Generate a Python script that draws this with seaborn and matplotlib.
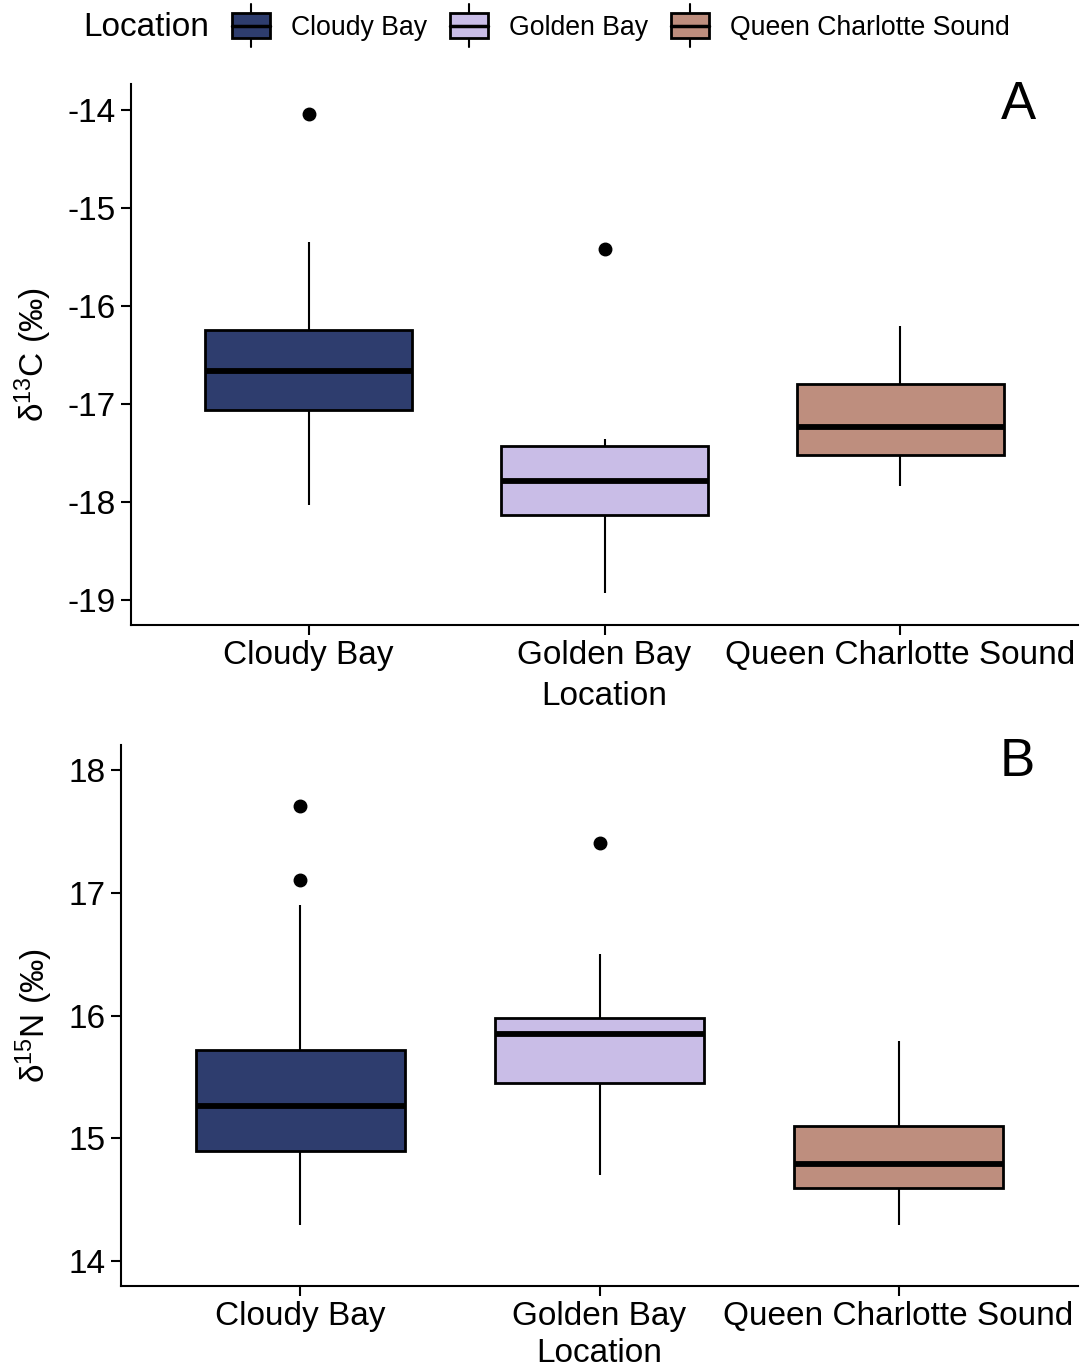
import matplotlib
matplotlib.use("Agg")
import matplotlib.pyplot as plt
from matplotlib.legend_handler import HandlerBase
from matplotlib.patches import Rectangle, Patch
from matplotlib.lines import Line2D
import pandas as pd
import seaborn as sns


LOCATIONS = ["Cloudy Bay", "Golden Bay", "Queen Charlotte Sound"]
COLORS = ["#2E3D6E", "#C9BDE7", "#BE8E7E"]

# sample values per site (chosen to reproduce the drawn box stats)
d13c_cloudy = [-18.03, -17.50, -17.06, -16.85, -16.66, -16.45, -16.25, -15.35, -14.05]
d13c_golden = [-18.92, -18.40, -18.13, -17.95, -17.78, -17.60, -17.43, -17.36, -15.42]
d13c_queen = [-17.83, -17.70, -17.52, -17.40, -17.23, -17.00, -16.80, -16.50, -16.20]

d15n_cloudy = [14.30, 14.60, 14.80, 14.90, 15.00, 15.15, 15.26, 15.40, 15.60,
               15.72, 16.90, 17.10, 17.70]
d15n_golden = [14.70, 15.20, 15.45, 15.70, 15.85, 15.92, 15.98, 16.50, 17.40]
d15n_queen = [14.30, 14.50, 14.60, 14.70, 14.79, 14.95, 15.10, 15.40, 15.79]

C13_TICKS = [-19, -18, -17, -16, -15, -14]
N15_TICKS = [14, 15, 16, 17, 18]


def long_df(groups):
    rows = []
    for loc, vals in zip(LOCATIONS, groups):
        for v in vals:
            rows.append({"Location": loc, "value": v})
    return pd.DataFrame(rows)


df_c = long_df([d13c_cloudy, d13c_golden, d13c_queen])
df_n = long_df([d15n_cloudy, d15n_golden, d15n_queen])

sns.set_style("ticks")
plt.rcParams["font.family"] = ["Liberation Sans", "DejaVu Sans"]
plt.rcParams["mathtext.fontset"] = "custom"
plt.rcParams["mathtext.rm"] = "Liberation Sans"
plt.rcParams["mathtext.default"] = "regular"
plt.rcParams["text.color"] = "black"
plt.rcParams["axes.labelcolor"] = "black"

BASE = 24
LW = 1.5

fig = plt.figure(figsize=(10.84, 13.68), dpi=100)
ax_a = fig.add_axes([131 / 1084, 1 - 625 / 1368, (1078 - 131) / 1084, (625 - 84) / 1368])
ax_b = fig.add_axes([121 / 1084, 1 - 1286 / 1368, (1078 - 121) / 1084, (1286 - 745) / 1368])


def draw_panel(ax, df, ylim, ticks, ylabel, tag, tag_y, xpad):
    sns.boxplot(
        data=df, x="Location", y="value", hue="Location",
        order=LOCATIONS, hue_order=LOCATIONS, palette=COLORS, saturation=1,
        width=0.7, linecolor="black", linewidth=2.0, legend=False,
        showcaps=False, ax=ax,
        medianprops={"linewidth": 4.2, "color": "black"},
        whiskerprops={"linewidth": LW, "color": "black"},
        flierprops={"marker": "o", "markerfacecolor": "black",
                    "markeredgecolor": "black", "markersize": 9},
    )
    ax.set_xlim(-0.6, 2.6)
    ax.set_ylim(ylim)
    ax.set_yticks(ticks)
    ax.set_yticklabels([str(t) for t in ticks])
    ax.set_xlabel("Location", fontsize=BASE, labelpad=xpad)
    ax.set_ylabel(ylabel, fontsize=BASE, labelpad=10)
    ax.tick_params(axis="both", labelsize=BASE, width=LW, length=7,
                   color="black", labelcolor="black", pad=4)
    for side in ["top", "right"]:
        ax.spines[side].set_visible(False)
    for side in ["left", "bottom"]:
        ax.spines[side].set_linewidth(LW)
        ax.spines[side].set_color("black")
    ax.text(0.937, tag_y, tag, transform=ax.transAxes, fontsize=38,
            ha="center", va="center")


draw_panel(ax_a, df_c, (-19.25, -13.74), C13_TICKS, "δ$^{13}$C (‰)", "A", 0.962, 7)
draw_panel(ax_b, df_n, (13.80, 18.20), N15_TICKS, "δ$^{15}$N (‰)", "B", 0.968, 4)


class BoxKey(HandlerBase):
    def create_artists(self, legend, orig_handle, xdescent, ydescent,
                       width, height, fontsize, trans):
        x0, y0 = -xdescent, -ydescent
        xm = x0 + width / 2
        box = Rectangle((x0, y0 - 0.15 * height), width, 1.3 * height,
                        facecolor=orig_handle.get_facecolor(),
                        edgecolor="black", linewidth=2.0, transform=trans)
        med = Line2D([x0, x0 + width], [y0 + 0.5 * height] * 2,
                     color="black", linewidth=2.5, transform=trans)
        w1 = Line2D([xm, xm], [y0 - 0.6 * height, y0 - 0.15 * height],
                    color="black", linewidth=LW, transform=trans)
        w2 = Line2D([xm, xm], [y0 + 1.15 * height, y0 + 1.6 * height],
                    color="black", linewidth=LW, transform=trans)
        return [w1, w2, box, med]


handles = [Patch(facecolor=c, edgecolor="black") for c in COLORS]
fig.text(83 / 1084, 1 - 28 / 1368, "Location", fontsize=BASE,
         ha="left", va="center")
fig.legend(handles, LOCATIONS, loc="center left",
           bbox_to_anchor=(232 / 1084, 1 - 28 / 1368),
           ncol=3, frameon=False, fontsize=19.2, borderpad=0,
           borderaxespad=0, handlelength=1.42, handleheight=0.75,
           handletextpad=0.8, columnspacing=0.85,
           handler_map={Patch: BoxKey()})

fig.savefig("out.png", dpi=100)
